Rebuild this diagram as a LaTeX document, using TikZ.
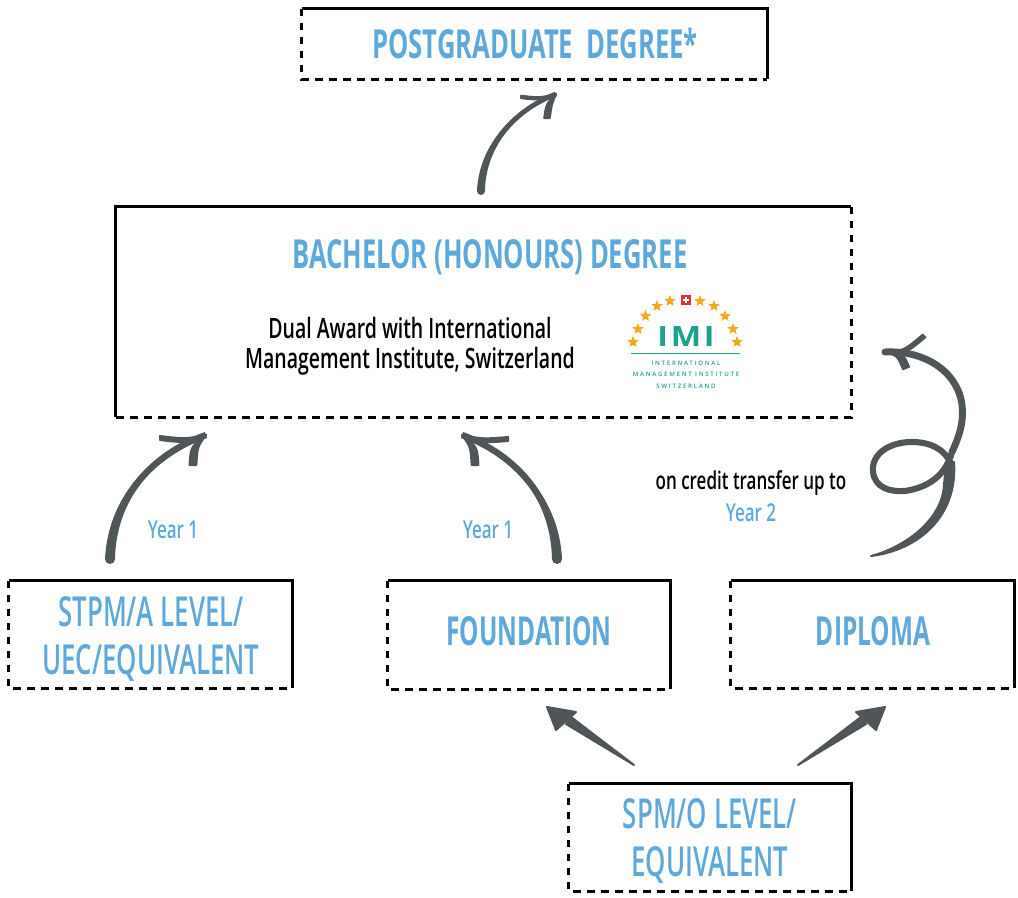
\documentclass[tikz,border=0pt]{standalone}
\usepackage{fontspec}
\usetikzlibrary{shapes.geometric,calc}
\setmainfont{Open Sans}
\newfontfamily\regfont[FakeStretch=0.625]{Open Sans Semibold}
\newfontfamily\titlefont[FakeStretch=0.64]{Open Sans Bold}
\newfontfamily\shortfont[FakeStretch=0.61]{Open Sans Bold}
\newfontfamily\dualfont[FakeStretch=0.695]{Open Sans Semibold}
\newfontfamily\smallfont[FakeStretch=0.69]{Open Sans Semibold}
\newfontfamily\logofont[LetterSpace=28]{Open Sans Semibold}
\newfontfamily\imifont[FakeStretch=1.15,LetterSpace=10]{Open Sans Bold}
\definecolor{headblue}{HTML}{5FA8DC}
\definecolor{arrowgrey}{HTML}{505657}
\definecolor{imiteal}{HTML}{1FA08F}
\definecolor{imistar}{HTML}{F2A91E}
\definecolor{imired}{HTML}{E0313A}
\tikzset{
  boxnode/.style={rectangle,inner sep=0pt},
  solidedge/.style={line width=1.9pt,black},
  dashedge/.style={line width=1.9pt,black,dash pattern=on 5.5pt off 5pt},
  titletext/.style={font=\titlefont\fontsize{30}{36}\selectfont,text=headblue,inner sep=0pt},
  shorttext/.style={font=\shortfont\fontsize{30}{36}\selectfont,text=headblue,inner sep=0pt},
  regtext/.style={font=\regfont\fontsize{31}{36}\selectfont,text=headblue,align=center,inner sep=0pt},
  dualtext/.style={font=\dualfont\fontsize{21}{22.5}\selectfont,text=black,align=center,inner sep=0pt},
  credittext/.style={font=\smallfont\fontsize{18.5}{22.5}\selectfont,text=black,inner sep=0pt},
  yeartext/.style={font=\smallfont\fontsize{18.5}{22.5}\selectfont,text=headblue,inner sep=0pt},
  greyfill/.style={draw=arrowgrey,fill=arrowgrey,line width=1.5pt,line join=round},
  spiralline/.style={draw=arrowgrey,line width=4.6pt,line cap=round,line join=round},
  imistarnode/.style={star,star points=5,star point ratio=2.3,fill=imistar,inner sep=0pt,minimum size=9pt},
  imismall/.style={font=\logofont\fontsize{4.6}{5}\selectfont,text=imiteal,inner sep=0pt}
}
% curved shaft: start s, controls, tip t, half width at the start, stroke width
\newcommand\taper[6]{%
  \draw[arrowgrey,line width=#6] (#1) .. controls (#2) and (#3) .. (#4);
  \filldraw[greyfill] ($(#1)+(#5,0)$) .. controls ($(#2)+0.8*(#5,0)$) and ($(#3)+0.4*(#5,#5)$) .. (#4)
     .. controls ($(#3)-0.4*(#5,#5)$) and ($(#2)-0.8*(#5,0)$) .. ($(#1)-(#5,0)$) -- cycle;
  \fill[arrowgrey] (#1) circle[radius=abs(#5)*0.75pt+0.75pt];}
% barb: tip, control, end, half-width vector at the end
\newcommand\barb[5]{%
  \filldraw[greyfill] (#1) .. controls ($(#2)+(#4,#5)$) .. ($(#3)+(#4,#5)$)
     -- ($(#3)-(#4,#5)$) .. controls ($(#2)-(#4,#5)$) .. (#1) -- cycle;}
\begin{document}
\begin{tikzpicture}[x=0.75pt,y=-0.75pt]
\useasboundingbox (0,0) rectangle (1018,897);

% boxes
\node[boxnode,minimum width=348.75pt,minimum height=52.5pt] (post) at (534.5,44) {};
\node[boxnode,minimum width=551.25pt,minimum height=157.5pt] (bach) at (483.5,312) {};
\node[boxnode,minimum width=212.25pt,minimum height=80.25pt] (stpm) at (150.5,634.5) {};
\node[boxnode,minimum width=211.5pt,minimum height=81pt] (found) at (529,635) {};
\node[boxnode,minimum width=212.25pt,minimum height=80.25pt] (dipl) at (872.5,634.5) {};
\node[boxnode,minimum width=211.5pt,minimum height=80.25pt] (spm) at (710,837.5) {};

% borders
\draw[solidedge] (post.north west) -- (post.north east) -- (post.south east);
\draw[dashedge] (post.north west) -- (post.south west) -- (post.south east);
\draw[solidedge] (bach.south west) -- (bach.north west) -- (bach.north east);
\draw[dashedge] (bach.north east) -- (bach.south east) -- (bach.south west);
\foreach \b in {stpm,found,dipl,spm}{
  \draw[solidedge] (\b.north west) -- (\b.north east) -- (\b.south east);
  \draw[dashedge] (\b.north west) -- (\b.south west) -- (\b.south east);
}

% texts
\node[titletext] (posttext) at (535,43) {POSTGRADUATE\ \ DEGREE*};
\node[titletext] (bachtitle) at (490,257) {BACHELOR (HONOURS) DEGREE};
\node[dualtext] (dual) at (410,346) {Dual Award with International\\Management Institute, Switzerland};
\node[regtext] (stpmtext) at (151,639) {STPM/A LEVEL/\\UEC/EQUIVALENT};
\node[shorttext] (foundtext) at (529,631) {FOUNDATION};
\node[shorttext] (dipltext) at (873,631) {DIPLOMA};
\node[regtext] (spmtext) at (710,841) {SPM/O LEVEL/\\EQUIVALENT};
\node[yeartext] (y1a) at (173,530) {Year 1};
\node[yeartext] (y1b) at (488,530) {Year 1};
\node[credittext] (credit) at (751,483) {on credit transfer up to};
\node[yeartext] (y2) at (751,513) {Year 2};

% logo
\foreach \n/\x/\y in {s1/633/342,s2/638/329,s3/645.5/316,s4/657/306,s5/670/301,s6/700/301,s7/714/306,s8/725/316,s9/733/329,s10/737/342}{
  \node[imistarnode] (\n) at (\x,\y) {};
}
\node[rectangle,fill=imired,minimum size=7.5pt,inner sep=0pt] (flag) at (686,300) {};
\fill[white] (683,299) rectangle (689,301);
\fill[white] (685,297) rectangle (687,303);
\node[font=\imifont\fontsize{21}{21}\selectfont,text=imiteal,inner sep=0pt] (imi) at (686,336.5) {IMI};
\coordinate (rulea) at (631,353);
\coordinate (ruleb) at (740,353);
\draw[imiteal,line width=0.6pt] (rulea) -- (ruleb);
\node[imismall] (l1) at (686,363) {INTERNATIONAL};
\node[imismall] (l2) at (686,374.5) {MANAGEMENT INSTITUTE};
\node[imismall] (l3) at (686,386) {SWITZERLAND};

% arrow end points
\coordinate (a1s) at (481,191);
\coordinate (a1t) at (556,94);
\coordinate (a2s) at (110,559);
\coordinate (a2t) at (206,435);
\coordinate (a3s) at (557,559);
\coordinate (a3t) at (462,435);
\coordinate (a4s) at (634,765);
\coordinate (a4t) at (547,707);
\coordinate (a5s) at (798,765);
\coordinate (a5t) at (885,707);
\coordinate (a6s) at (871,556);
\coordinate (a6t) at (885,352);

% arrow 1: bachelor to postgraduate
\taper{a1s}{482,150}{510,112}{a1t}{3}{3.6pt}
\barb{a1t}{540,99}{521,97}{0}{1.2}
\barb{a1t}{549,104}{547,118}{2.8}{0}

% arrow 2: stpm to bachelor
\taper{a2s}{112,500}{150,455}{a2t}{4}{4.8pt}
\barb{a2t}{185,441}{160,438}{0}{2}
\barb{a2t}{194,447}{193,465}{3.4}{0}

% arrow 3: foundation to bachelor
\taper{a3s}{555,500}{517,455}{a3t}{4}{4.8pt}
\barb{a3t}{483,441}{508,439}{0}{2}
\barb{a3t}{474,447}{475,465}{3.4}{0}

% arrow 4: spm to foundation
\filldraw[greyfill] (a4s) -- (571,717) -- (566,724) -- cycle;
\filldraw[greyfill] (a4t) -- (576,712) -- (556,730) -- cycle;

% arrow 5: spm to diploma
\filldraw[greyfill] (a5s) -- (861,717) -- (866,724) -- cycle;
\filldraw[greyfill] (a5t) -- (856,712) -- (876,730) -- cycle;

% arrow 6: diploma to bachelor, with a loop
\filldraw[greyfill] (a6s) .. controls (905,547) and (942,520) .. (944,485) -- (946,462) -- (954,462)
   .. controls (958,515) and (920,550) .. (a6s) -- cycle;
\draw[spiralline] (951,464) .. controls (945,449) and (930,442) .. (912,442)
  .. controls (888,442) and (871,455) .. (873,472)
  .. controls (875,488) and (890,492) .. (905,491)
  .. controls (925,488) and (945,478) .. (952,452);
\draw[spiralline,line width=5.2pt] (952,452)
  .. controls (960,435) and (964,420) .. (962,405)
  .. controls (958,372) and (925,350) .. (a6t);
\barb{a6t}{905,352}{924,336}{1.3}{1.3}
\barb{a6t}{900,354}{906,368}{3}{-1.2}
\end{tikzpicture}
\end{document}
